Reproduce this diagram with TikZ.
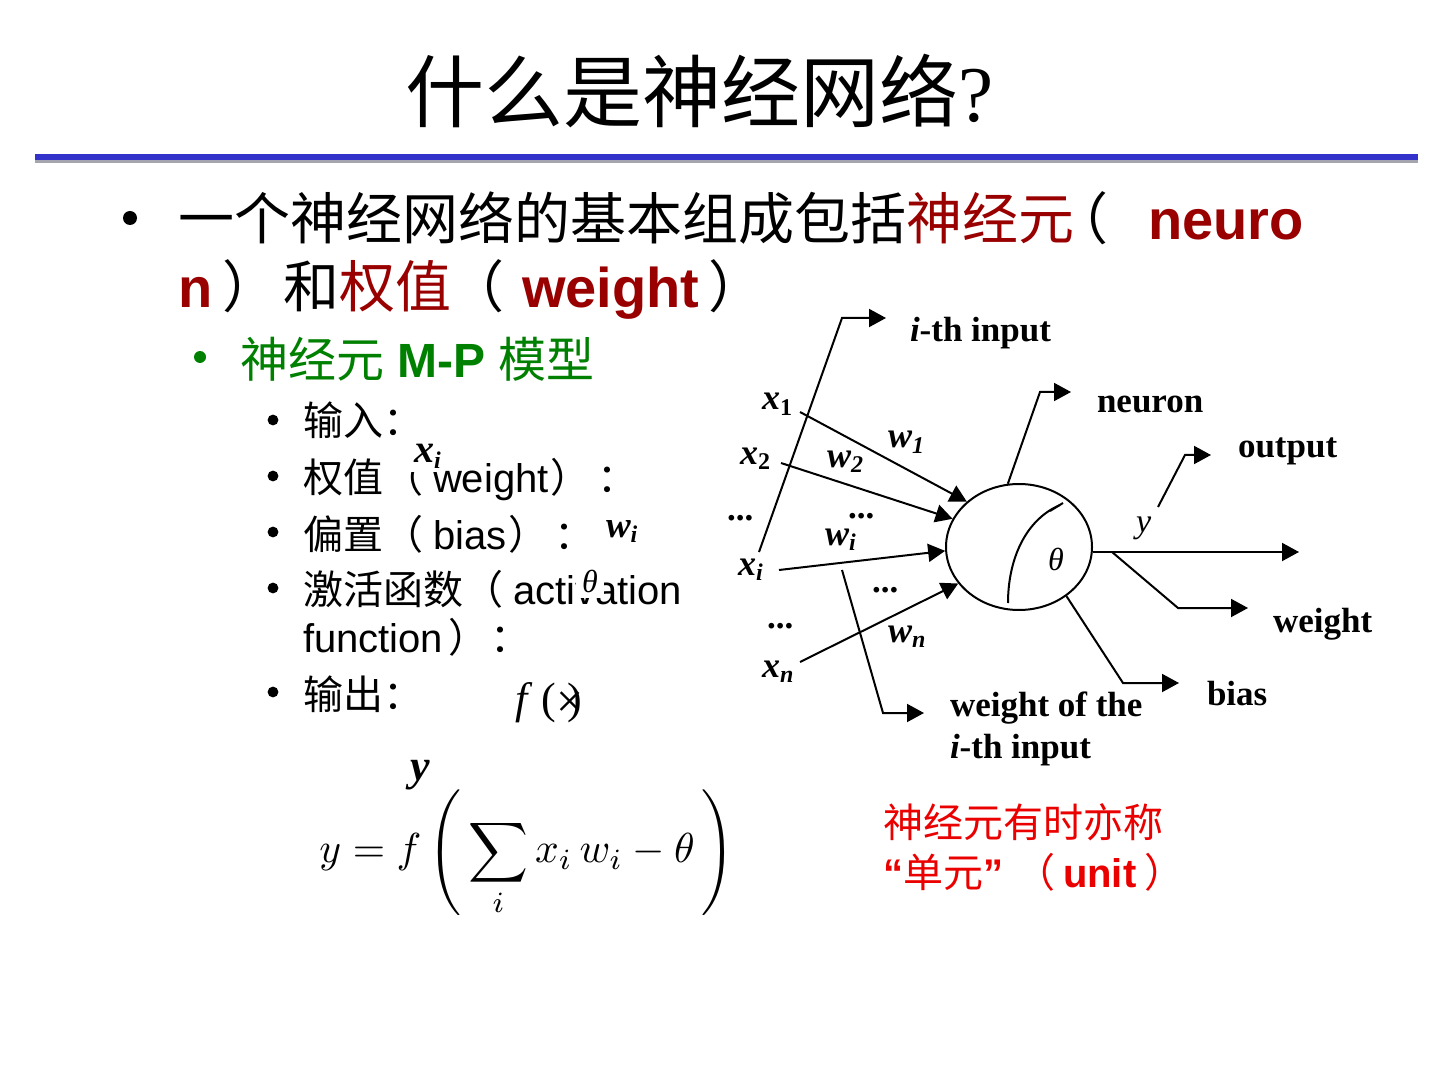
\documentclass[tikz,border=0pt]{standalone}
\usepackage{fontspec}
\usepackage{graphicx}
\setmainfont{Liberation Sans}
\newfontfamily\cjk{Noto Sans CJK SC}
\newfontfamily\tms{Liberation Serif}
\usetikzlibrary{arrows.meta,shapes.geometric}
\definecolor{dred}{RGB}{153,0,0}
\definecolor{mpgreen}{RGB}{0,128,0}
\definecolor{notered}{RGB}{235,0,0}
\definecolor{ruleblue}{RGB}{51,51,204}
\definecolor{rulegray}{RGB}{165,165,175}
\newcommand{\symsub}[2]{{\tms\bfseries\itshape #1\raisebox{-2.5pt}{\fontsize{12}{12}\selectfont #2}}}
\begin{document}
\begin{tikzpicture}[x=0.5pt,y=-0.5pt,
  txt/.style={inner sep=0pt,outer sep=0pt},
  bw/.style={txt,anchor=base west},
  lab/.style={bw,font=\fontsize{17.5}{20}\selectfont\tms\bfseries},
  sym/.style={bw,font=\fontsize{18}{20}\selectfont},
  ln/.style={line width=1pt},
  arr/.style={line width=1pt,-{Triangle[length=8.5pt,width=9pt]}},
  Lone/.style={bw,font=\fontsize{28}{30}\selectfont},
  Ltwo/.style={bw,font=\fontsize{24}{26}\selectfont},
  Lthree/.style={bw,font=\fontsize{20}{22}\selectfont},
  parone/.style={txt,anchor=base,font=\fontsize{28}{30}\selectfont\cjk},
  parthree/.style={txt,anchor=base,font=\fontsize{20}{22}\selectfont\cjk},
]
\useasboundingbox (0,0) rectangle (1440,1080);
\fill[white] (0,0) rectangle (1440,1080);

% title
\node[bw,font=\fontsize{39.5}{40}\selectfont] (title) at (405,122) {{\cjk 什么是神经网络}{\tms ?}};
\fill[ruleblue] (35,154) rectangle (1418,160);
\fill[rulegray] (35,160) rectangle (1418,163);

% level 1
\fill (130,218) circle[radius=3.5pt];
\node[Lone] (b1a) at (178,240) {{\cjk 一个神经网络的基本组成包括}{\cjk\color{dred}神经元}};
\node[parone] (b1p) at (1080,240) {（};
\node[Lone,text=dred,font=\fontsize{28}{30}\selectfont\bfseries] (b1n) at (1148,240) {neuro};
\node[Lone,text=dred,font=\fontsize{28}{30}\selectfont\bfseries] (b2n) at (178,308) {n};
\node[parone] (b2p) at (250,308) {）};
\node[Lone] (b2a) at (283,308) {{\cjk 和}{\cjk\color{dred}权值}};
\node[parone] (b2q) at (476,308) {（};
\node[Lone,text=dred,font=\fontsize{28}{30}\selectfont\bfseries] (b2w) at (522,308) {weight};
\node[parone] (b2r) at (736,308) {）};

% level 2
\fill[mpgreen] (200,357) circle[radius=3pt];
\node[Ltwo,text=mpgreen] (mp) at (240,378) {{\cjk 神经元}\ \textbf{M-P}\ {\cjk 模型}};

% level 3
\foreach \yy in {420,476,532,588,692} \fill (273,\yy) circle[radius=2.7pt];
\node[Lthree] (in) at (303,436) {{\cjk 输入：}};
\node[Lthree] (wt) at (303,493) {{\cjk 权值}};
\node[parthree] (wtp) at (403,493) {（};
\node[Lthree] (wtw) at (433,493) {weight};
\node[parthree] (wtq) at (570,493) {）};
\node[parthree] (wtc) at (617,493) {：};
\node[Lthree] (bs) at (303,549) {{\cjk 偏置}};
\node[parthree] (bsp) at (403,549) {（};
\node[Lthree] (bsw) at (433,549) {bias};
\node[parthree] (bsq) at (528,549) {）};
\node[parthree] (bsc) at (574,549) {：};
\node[Lthree] (ac) at (303,604) {{\cjk 激活函数}};
\node[parthree] (acp) at (483,604) {（};
\node[Lthree] (acw) at (513,604) {activation};
\node[Lthree] (fn) at (303,652) {function};
\node[parthree] (fnq) at (468,652) {）};
\node[parthree] (fnc) at (510,652) {：};
\node[Lthree] (out) at (303,709) {{\cjk 输出：}};

% overlays
\node[bw,fill=white,inner sep=2pt,font=\fontsize{20}{22}\selectfont] (oxi) at (410,463) {\symsub{x}{i}};
\node[bw,fill=white,inner sep=2pt,font=\fontsize{18.5}{22}\selectfont] (owi) at (602,537) {\symsub{w}{i}};
\node[bw,fill=white,inner sep=3pt,font=\fontsize{16}{18}\selectfont\tms\itshape] (oth) at (576,592) {θ};
\node[bw,font=\fontsize{22}{24}\selectfont\tms\itshape] (fxa) at (515,713) {f};
\node[bw,font=\fontsize{22}{24}\selectfont\tms] (fxb) at (541,713) {(};
\node[bw,font=\fontsize{24}{26}\selectfont\tms] (fxc) at (556,717) {×};
\node[bw,font=\fontsize{22}{24}\selectfont\tms] (fxd) at (567,713) {)};
\node[bw,font=\fontsize{22}{24}\selectfont\tms\bfseries\itshape] (oy) at (410,780) {y};

% formula
\node[txt] (eq) at (527,853) {\resizebox*{207.5pt}{63.5pt}{$\displaystyle y = f\left(\,\sum_i x_i\, w_i - \theta\,\right)$}};

% note
\node[Lthree,text=notered] (n1) at (883,837) {{\cjk 神经元有时亦称}};
\node[Lthree,text=notered] (n2) at (883,887) {\textbf{“}{\cjk 单元}\textbf{”}};
\node[parthree,text=notered] (n2p) at (1035,887) {（};
\node[Lthree,text=notered,font=\fontsize{20}{22}\selectfont\bfseries] (n2u) at (1063,887) {unit};
\node[parthree,text=notered] (n2q) at (1164,887) {）};

% neuron diagram
\node[draw,ellipse,line width=1pt,minimum width=73pt,minimum height=63pt,inner sep=0pt] (cell) at (1019,547) {};
\draw[ln] (1008,603) .. controls (1008,560) and (1025,520) .. (1060,505);
\draw[ln] (1050,511) -- (1063,503);
\node[bw,font=\fontsize{16}{18}\selectfont\tms\itshape] (theta) at (1048,570) {θ};

\node[sym] (sx1) at (762,410) {\symsub{x}{\upshape 1}};
\node[sym] (sx2) at (740,465) {\symsub{x}{\upshape 2}};
\node[sym] (sxi) at (738,575) {\symsub{x}{i}};
\node[sym] (sxn) at (762,677) {\symsub{x}{n}};
\node[sym] (sw1) at (888,448) {\symsub{w}{1}};
\node[sym] (sw2) at (827,467) {\symsub{w}{2}};
\node[sym] (swi) at (825,545) {\symsub{w}{i}};
\node[sym] (swn) at (888,642) {\symsub{w}{n}};
\node[lab] (d1) at (727,520) {...};
\node[lab] (d2) at (848,518) {...};
\node[lab] (d3) at (872,592) {...};
\node[lab] (d4) at (767,628) {...};
\node[bw,font=\fontsize{17}{18}\selectfont\tms\itshape] (sy) at (1136,532) {y};

\node[lab] (lith) at (910,342) {\textit{i}-th input};
\node[lab] (lneu) at (1097,413) {neuron};
\node[lab] (lout) at (1238,458) {output};
\node[lab] (lwt) at (1273,632) {weight};
\node[lab] (lbias) at (1207,705) {bias};
\node[lab] (lwo) at (950,716) {weight of the};
\node[lab] (lwo2) at (950,758) {\textit{i}-th input};

\coordinate (x1s) at (800,412);
\coordinate (x2s) at (781,463);
\coordinate (xis) at (779,570);
\coordinate (xns) at (800,662);
\draw[arr] (x1s) -- (cell.139);
\draw[arr] (x2s) -- (cell.157);
\draw[arr] (xis) -- (cell.183);
\draw[arr] (xns) -- (cell.211);

\coordinate (ia) at (759,552); \coordinate (ib) at (842,318); \coordinate (ic) at (886,318);
\draw[arr] (ia) -- (ib) -- (ic);
\coordinate (wa) at (842,570); \coordinate (wb) at (883,713); \coordinate (wc) at (924,713);
\draw[arr] (wa) -- (wb) -- (wc);
\coordinate (nb) at (1040,392); \coordinate (nc) at (1071,392);
\draw[arr] (cell.100) -- (nb) -- (nc);
\coordinate (oa) at (1158,507); \coordinate (ob) at (1185,455); \coordinate (oc) at (1211,455);
\draw[arr] (oa) -- (ob) -- (oc);
\coordinate (yb) at (1299,552);
\draw[arr] (cell.east |- yb) -- (yb);
\coordinate (ga) at (1112,552); \coordinate (gb) at (1178,608); \coordinate (gc) at (1248,608);
\draw[arr] (ga) -- (gb) -- (gc);
\coordinate (bb) at (1123,683); \coordinate (bc) at (1179,683);
\draw[arr] (cell.-46) -- (bb) -- (bc);
\end{tikzpicture}
\end{document}
